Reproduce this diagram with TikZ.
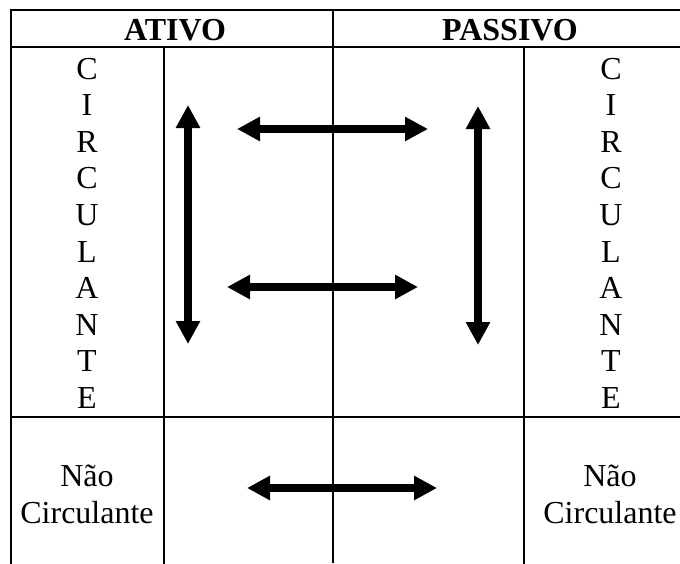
\documentclass[tikz,border=0pt]{standalone}
\usepackage{fontspec}
\setmainfont{Liberation Serif}
\usetikzlibrary{arrows.meta}
\tikzset{
  grid/.style={line width=2.2pt, line cap=rect},
  midline/.style={line width=1.6pt},
  txt/.style={inner sep=0pt, anchor=base, font=\fontsize{32}{37}\selectfont},
  hdr/.style={inner sep=0pt, anchor=base, font=\fontsize{32}{37}\selectfont\bfseries},
  dbl/.style={line width=8pt, {Triangle[length=23pt,width=23pt]}-{Triangle[length=23pt,width=23pt]}}
}
\begin{document}
\begin{tikzpicture}[x=1pt,y=-1pt]
\useasboundingbox (0,0) rectangle (680,563);
% table
\draw[grid] (11,10) -- (680,10);
\draw[grid] (11,47) -- (680,47);
\draw[grid] (11,417) -- (680,417);
\draw[grid] (11,10) -- (11,563);
\draw[grid] (164,47) -- (164,563);
\draw[grid] (524,47) -- (524,563);
\draw[midline] (333,10) -- (333,563);
% headers
\node[hdr] (ativo) at (175,40) {ATIVO};
\node[hdr] (passivo) at (510,40) {PASSIVO};
% vertical letters
\foreach \ch [count=\i from 0] in {C,I,R,C,U,L,A,N,T,E}{
  \node[txt] (l\i) at (87,79+36.6*\i) {\ch};
  \node[txt] (r\i) at (611,79+36.6*\i) {\ch};
}
% non-current
\node[txt] (ncla) at (87,486) {Não};
\node[txt] (nclb) at (87,523) {Circulante};
\node[txt] (ncra) at (610,486) {Não};
\node[txt] (ncrb) at (610,523) {Circulante};
% arrows
\coordinate (lvt) at (188,105);
\coordinate (lvb) at (188,344);
\coordinate (rvt) at (478,106);
\coordinate (rvb) at (478,345);
\coordinate (h1l) at (237,129);
\coordinate (h1r) at (428,129);
\coordinate (h2l) at (227,287);
\coordinate (h2r) at (418,287);
\coordinate (h3l) at (247,488);
\coordinate (h3r) at (437,488);
\draw[dbl] (lvt) -- (lvb);
\draw[dbl] (rvt) -- (rvb);
\draw[dbl] (h1l) -- (h1r);
\draw[dbl] (h2l) -- (h2r);
\draw[dbl] (h3l) -- (h3r);
\end{tikzpicture}
\end{document}
